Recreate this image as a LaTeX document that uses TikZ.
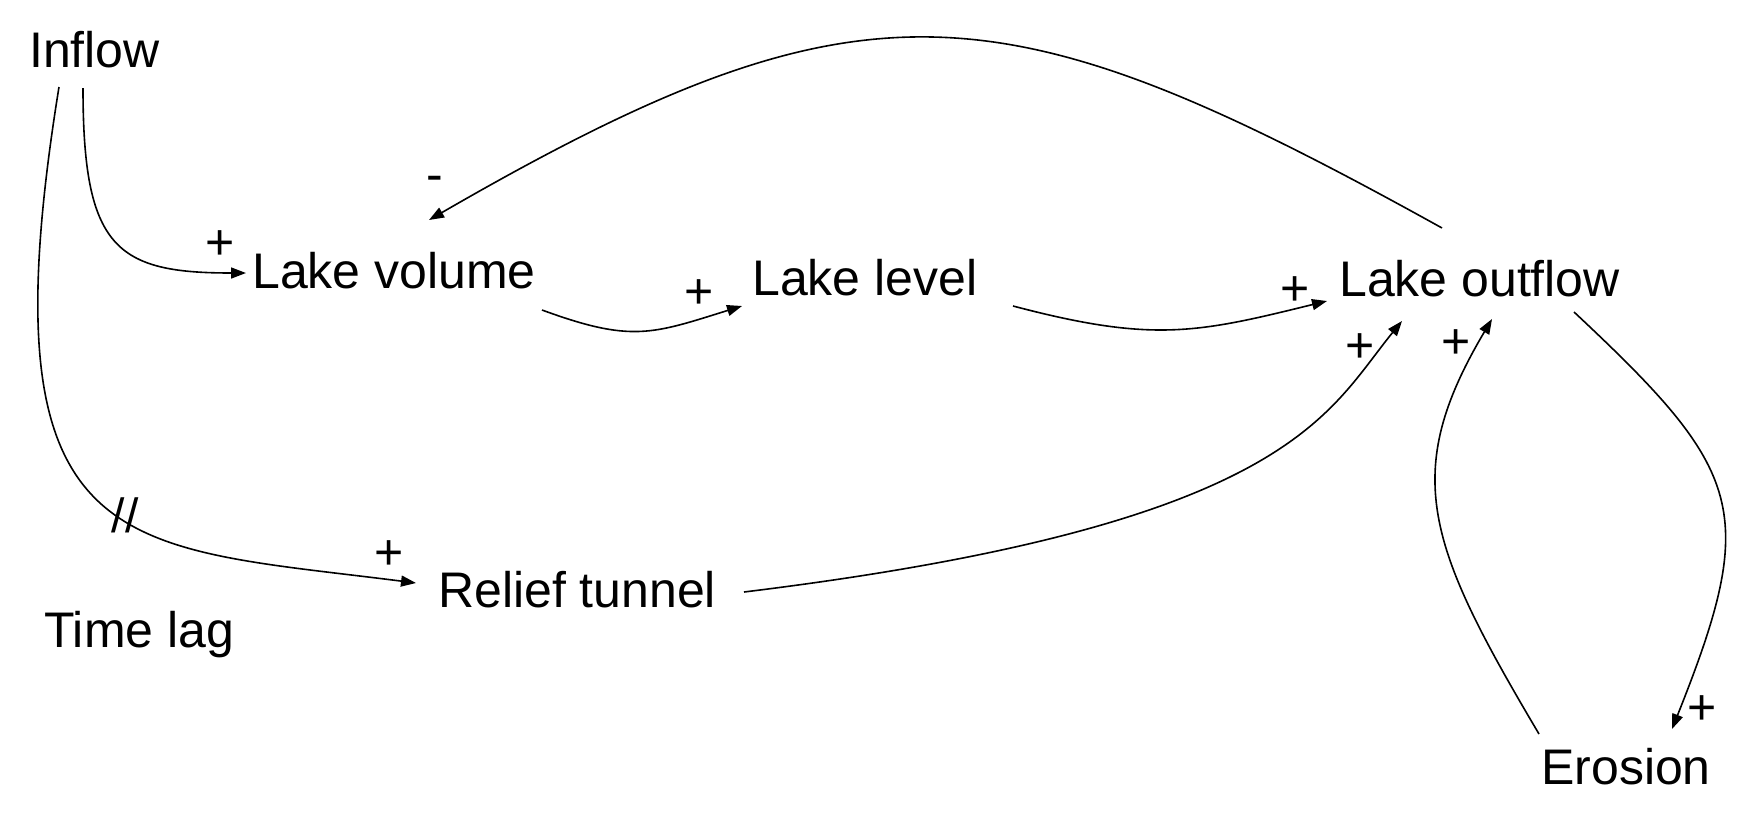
\documentclass[tikz,border=0pt]{standalone}
\usepackage{fontspec}
\setmainfont{Liberation Sans}
\usetikzlibrary{arrows.meta,calc}
\begin{document}
\begin{tikzpicture}[x=1pt,y=-1pt,
  lbl/.style={inner sep=0pt, anchor=base west, font=\fontsize{50}{60}\selectfont},
  sgn/.style={inner sep=0pt, font=\fontsize{50}{60}\selectfont},
  link/.style={line width=1.6pt, -{Triangle[length=15pt,width=11pt]}}]
\useasboundingbox[fill=white] (0,0) rectangle (1747,828);
% variables
\node[lbl] (inflow)  at (29,67)   {Inflow};
\node[lbl] (volume)  at (252,288) {Lake volume};
\node[lbl] (level)   at (752,295) {Lake level};
\node[lbl] (outflow) at (1339,296) {Lake outflow};
\node[lbl] (relief)  at (438,607) {Relief tunnel};
\node[lbl] (timelag) at (44,647)  {Time lag};
\node[lbl] (erosion) at (1541,784) {Erosion};
% polarity signs
\node[sgn] (pvol)  at (220,245) {+};
\node[sgn] (minus) at (435,184) {-};
\node[sgn] (plev)  at (699,294) {+};
\node[sgn] (pout1) at (1295,291) {+};
\node[sgn] (pout2) at (1360,348) {+};
\node[sgn] (pout3) at (1456,344) {+};
\node[sgn] (pero)  at (1702,710) {+};
\node[sgn] (prel)  at (389,555) {+};
\node[inner sep=0pt, font=\fontsize{48}{56}\selectfont] (delay) at (125,515) {//};
% links
\draw[link] ($(inflow.base west)+(54,21)$) .. controls +(0,160) and +(-130,0) .. ($(volume.base west)+(-6,-15)$);
\draw[link] ($(inflow.base west)+(30,20)$) .. controls +(-77,475) and +(-297,-38) .. ($(relief.base west)+(-22,-24)$);
\draw[link] ($(volume.base west)+(290,22)$) .. controls +(90,33) and +(-90,28) .. ($(level.base west)+(-10,11)$);
\draw[link] ($(level.base west)+(261,11)$) .. controls +(140,37) and +(-130,32) .. ($(outflow.base west)+(-12,5)$);
\draw[link] ($(outflow.base west)+(103,-68)$) .. controls +(-440,-244) and +(436,-252) .. ($(volume.base west)+(177,-68)$);
\draw[link] ($(relief.base west)+(306,-15)$) .. controls +(546,-67) and +(-76,93) .. ($(outflow.base west)+(63,25)$);
\draw[link] ($(outflow.base west)+(235,16)$) .. controls +(171,160) and +(87,-218) .. ($(erosion.base west)+(131,-55)$);
\draw[link] ($(erosion.base west)+(-2,-50)$) .. controls +(-112,-189) and +(-92,155) .. ($(outflow.base west)+(153,23)$);
\end{tikzpicture}
\end{document}
